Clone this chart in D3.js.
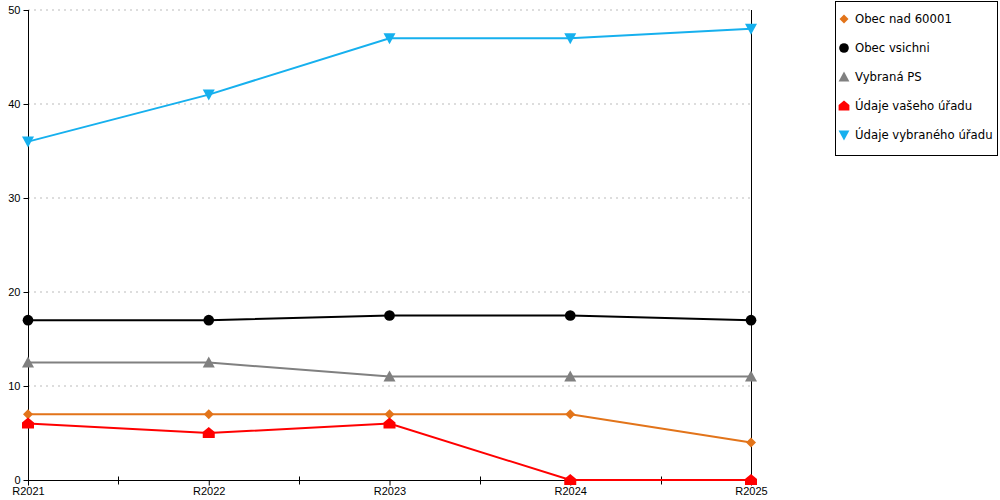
<!DOCTYPE html>
<html>
<head>
<meta charset="utf-8">
<script src="https://cdn.jsdelivr.net/npm/d3@7"></script>
<style>
  body { margin: 0; background: #fff; }
  svg { display: block; font-family: "DejaVu Sans", Verdana, sans-serif; }
</style>
</head>
<body>
<div id="chart"></div>
<script>
const width = 1000;
const height = 500;

const years = ["R2021", "R2022", "R2023", "R2024", "R2025"];
const yTicks = [0, 10, 20, 30, 40, 50];

const obecNad = [7, 7, 7, 7, 4];
const obecVsichni = [17, 17, 17.5, 17.5, 17];
const vybranaPS = [12.5, 12.5, 11, 11, 11];
const vasUrad = [6, 5, 6, 0, 0];
const vybranyUrad = [36, 41, 47, 47, 48];

const seriesNames = ["Obec nad 60001", "Obec vsichni", "Vybraná PS", "Údaje vašeho úřadu", "Údaje vybraného úřadu"];
const seriesColors = ["#e2741a", "#000000", "#808080", "#ff0000", "#16b0ee"];
const seriesShapes = ["diamond", "circle", "up", "house", "down"];

const series = [obecNad, obecVsichni, vybranaPS, vasUrad, vybranyUrad].map((vals, i) => ({
    name: seriesNames[i],
    color: seriesColors[i],
    shape: seriesShapes[i],
    values: vals
}));

const x = d3.scalePoint().domain(years).range([28, 751]);
const y = d3.scaleLinear().domain([0, 50]).range([480, 10]);

const svg = d3.select("#chart").append("svg")
    .attr("width", width)
    .attr("height", height);

// gridlines
svg.append("g")
    .selectAll("line")
    .data(yTicks.filter(d => d > 0))
    .join("line")
    .attr("x1", 28).attr("x2", 751)
    .attr("y1", d => y(d)).attr("y2", d => y(d))
    .attr("stroke", "#bbb")
    .attr("stroke-dasharray", "2,4");

// right frame line
svg.append("line")
    .attr("x1", 751.5).attr("x2", 751.5)
    .attr("y1", y(50)).attr("y2", y(0))
    .attr("stroke", "#000");

// y axis
const yAxis = svg.append("g")
    .attr("transform", "translate(28.5,0)")
    .call(d3.axisLeft(y).tickValues(yTicks).tickSize(5).tickPadding(3));
yAxis.select(".domain").attr("d", `M0,${y(50)}V${y(0) + 5}`);
yAxis.selectAll("text").style("font-size", "11px").attr("fill", "#000");

// x axis
const xAxis = svg.append("g")
    .attr("transform", `translate(0,${y(0) + 0.5})`)
    .call(d3.axisBottom(x).tickSize(5).tickPadding(2));
xAxis.select(".domain").attr("d", `M28,0H751`);
xAxis.selectAll("text").style("font-size", "11px").attr("fill", "#000");

// midpoint ticks between categories
const mids = years.slice(1).map((yr, i) => (x(years[i]) + x(yr)) / 2);
xAxis.append("g")
    .selectAll("line")
    .data(mids)
    .join("line")
    .attr("x1", d => Math.round(d) + 0.5).attr("x2", d => Math.round(d) + 0.5)
    .attr("y1", -4).attr("y2", 4)
    .attr("stroke", "#000");

function markerPath(shape) {
    switch (shape) {
        case "diamond": return "M0,-5L5,0L0,5L-5,0Z";
        case "circle": return d3.symbol(d3.symbolCircle, 90)();
        case "up": return "M0,-6L6,5L-6,5Z";
        case "down": return "M-6,-5L6,-5L0,6Z";
        case "house": return "M0,-6L6,-1L6,5L-6,5L-6,-1Z";
    }
}

const line = d3.line()
    .x((d, i) => x(years[i]))
    .y(d => y(d));

const lines = svg.append("g");
series.forEach(s => {
    const g = lines.append("g");
    g.append("path")
        .datum(s.values)
        .attr("fill", "none")
        .attr("stroke", s.color)
        .attr("stroke-width", 2)
        .attr("d", line);
    g.selectAll("path.marker")
        .data(s.values)
        .join("path")
        .attr("class", "marker")
        .attr("transform", (d, i) => `translate(${x(years[i])},${y(d)})`)
        .attr("d", markerPath(s.shape))
        .attr("fill", s.color);
});

// legend
const legend = svg.append("g");
legend.append("rect")
    .attr("x", 835.5).attr("y", 1.5)
    .attr("width", 162).attr("height", 154)
    .attr("fill", "#fff")
    .attr("stroke", "#000");

const items = legend.selectAll("g.item")
    .data(series)
    .join("g")
    .attr("class", "item")
    .attr("transform", (d, i) => `translate(844,${19 + i * 29})`);

items.append("path")
    .attr("d", d => markerPath(d.shape))
    .attr("fill", d => d.color)
    .attr("transform", "scale(0.9)");

items.append("text")
    .attr("x", 11)
    .attr("dy", "0.35em")
    .style("font-size", "11.7px")
    .attr("fill", "#000")
    .text(d => d.name);
</script>
</body>
</html>
